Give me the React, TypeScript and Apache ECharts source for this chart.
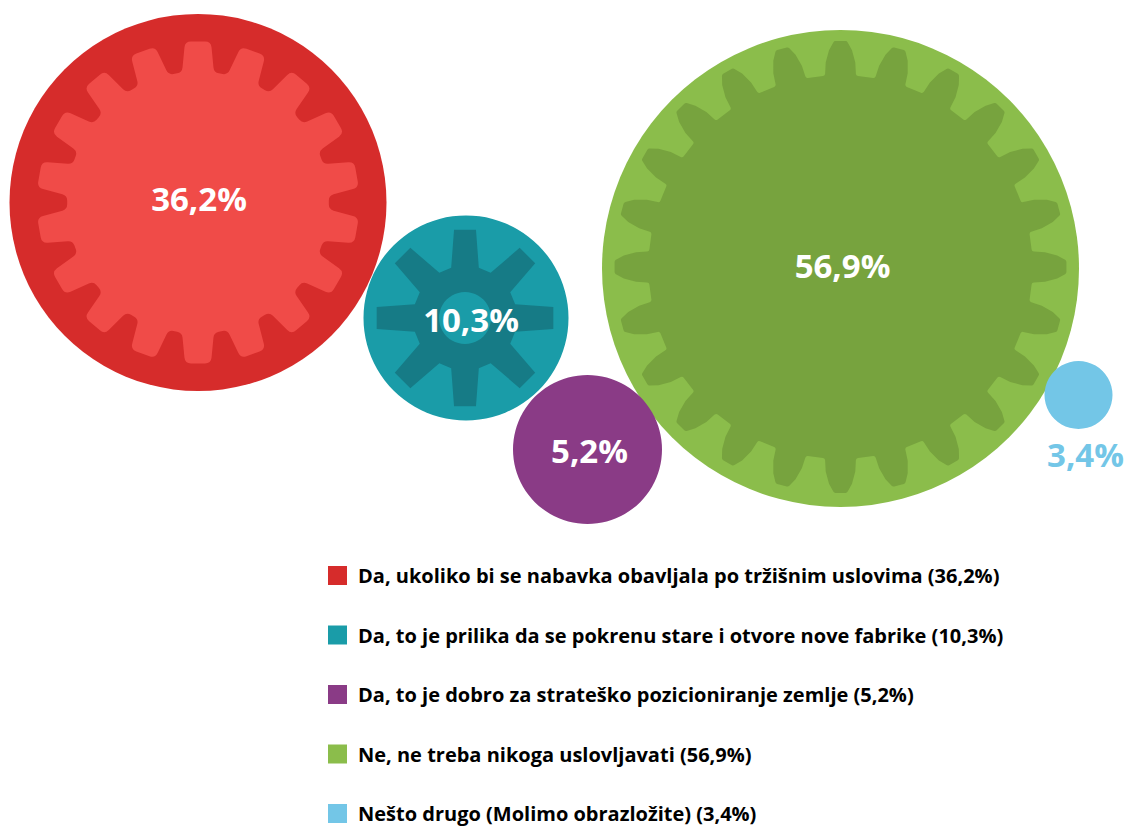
import React, { useEffect, useRef } from "react";
import * as echarts from "echarts";

// ---- data ----
const categories = [
  "Da, ukoliko bi se nabavka obavljala po tržišnim uslovima (36,2%)",
  "Da, to je prilika da se pokrenu stare i otvore nove fabrike (10,3%)",
  "Da, to je dobro za strateško pozicioniranje zemlje (5,2%)",
  "Ne, ne treba nikoga uslovljavati (56,9%)",
  "Nešto drugo (Molimo obrazložite) (3,4%)",
];
const values = [36.2, 10.3, 5.2, 56.9, 3.4];
const valueLabels = ["36,2%", "10,3%", "5,2%", "56,9%", "3,4%"];

// ---- layout (pixel space of the 1133x827 canvas) ----
const bubbleX = [198, 466, 587.5, 840.5, 1078.5];
const bubbleY = [202.5, 318, 449.5, 268.5, 395];
const bubbleR = [188.5, 102.5, 74.5, 238.5, 34];
const labelDX = [1, 5, 2, 2, 7];
const labelDY = [-4, 1, 1, -3, 59];
const zOrder = [2, 2, 3, 2, 3];

// ---- styles ----
const circleColors = ["#d62c2b", "#1a9ca8", "#8a3b86", "#8bbd4b", "#73c6e7"];
const gearColors = ["#f04b48", "#167b86", null, "#77a33e", null];
const labelColors = ["#ffffff", "#ffffff", "#ffffff", "#ffffff", "#73c6e7"];

type Prof = { r: number; h: number; round: number };
type GearSpec = { n: number; phase: number; profile: Prof[]; dx: number; dy: number; hole: number } | null;
const gearSpecs: GearSpec[] = [
  {
    n: 18,
    phase: 90,
    dx: 0,
    dy: 0,
    hole: 0,
    profile: [
      { r: 131, h: 16, round: 5 },
      { r: 161.5, h: 13, round: 6 },
    ],
  },
  {
    n: 8,
    phase: 90,
    dx: -1,
    dy: 0,
    hole: 26,
    profile: [
      { r: 52, h: 14, round: 0 },
      { r: 89, h: 11, round: 0 },
    ],
  },
  null,
  {
    n: 24,
    phase: 90,
    dx: 0,
    dy: -1.5,
    hole: 0,
    profile: [
      { r: 192, h: 15.5, round: 2 },
      { r: 205, h: 14.8, round: 0 },
      { r: 217, h: 11.5, round: 0 },
      { r: 226, h: 6.5, round: 1.5 },
    ],
  },
  null,
];

type P = { x: number; y: number; r: number };

function roundedPolyPath(pts: P[]): string {
  const n = pts.length;
  const f = (v: number) => v.toFixed(2);
  let d = "";
  for (let i = 0; i < n; i++) {
    const p = pts[i];
    const prev = pts[(i - 1 + n) % n];
    const next = pts[(i + 1) % n];
    const cmd = i === 0 ? "M" : "L";
    if (p.r > 0) {
      const l1 = Math.hypot(prev.x - p.x, prev.y - p.y);
      const l2 = Math.hypot(next.x - p.x, next.y - p.y);
      const r1 = Math.min(p.r, l1 / 2);
      const r2 = Math.min(p.r, l2 / 2);
      const ax = p.x + ((prev.x - p.x) / l1) * r1;
      const ay = p.y + ((prev.y - p.y) / l1) * r1;
      const bx = p.x + ((next.x - p.x) / l2) * r2;
      const by = p.y + ((next.y - p.y) / l2) * r2;
      d += `${cmd}${f(ax)},${f(ay)} Q${f(p.x)},${f(p.y)} ${f(bx)},${f(by)} `;
    } else {
      d += `${cmd}${f(p.x)},${f(p.y)} `;
    }
  }
  return d + "Z";
}

function gearPath(cx: number, cy: number, s: number, spec: NonNullable<GearSpec>): string {
  const pts: P[] = [];
  const step = 360 / spec.n;
  for (let k = 0; k < spec.n; k++) {
    const a = ((spec.phase + k * step) * Math.PI) / 180;
    const prof = spec.profile;
    for (let i = 0; i < prof.length; i++) {
      const r = prof[i].r * s;
      const t = a - (prof[i].h * s) / r;
      pts.push({ x: cx + r * Math.cos(t), y: cy - r * Math.sin(t), r: prof[i].round * s });
    }
    for (let i = prof.length - 1; i >= 0; i--) {
      const r = prof[i].r * s;
      const t = a + (prof[i].h * s) / r;
      pts.push({ x: cx + r * Math.cos(t), y: cy - r * Math.sin(t), r: prof[i].round * s });
    }
  }
  return roundedPolyPath(pts);
}

export default function App() {
  const ref = useRef<HTMLDivElement>(null);
  useEffect(() => {
    if (!ref.current) return;
    const chart = echarts.init(ref.current, null, { renderer: "svg" });
    const series = categories.map((name, idx) => ({
      type: "custom",
      name,
      z: zOrder[idx],
      clip: false,
      coordinateSystem: "cartesian2d",
      itemStyle: { color: circleColors[idx] },
      data: [[bubbleX[idx], bubbleY[idx], values[idx]]],
      renderItem: (params: any, api: any) => {
        const c = api.coord([api.value(0), api.value(1)]);
        const unit = api.size([1, 1])[0];
        const r = bubbleR[idx] * unit;
        const children: any[] = [
          {
            type: "circle",
            shape: { cx: c[0], cy: c[1], r },
            style: { fill: circleColors[idx] },
          },
        ];
        const spec = gearSpecs[idx];
        if (spec) {
          const gx = c[0] + spec.dx * unit;
          const gy = c[1] + spec.dy * unit;
          children.push({
            type: "path",
            shape: { pathData: gearPath(gx, gy, unit, spec) },
            style: { fill: gearColors[idx] },
          });
          if (spec.hole > 0) {
            children.push({
              type: "circle",
              shape: { cx: gx, cy: gy, r: spec.hole * unit },
              style: { fill: circleColors[idx] },
            });
          }
        }
        children.push({
          type: "text",
          style: {
            text: valueLabels[idx],
            x: c[0] + labelDX[idx] * unit,
            y: c[1] + labelDY[idx] * unit,
            align: "center",
            verticalAlign: "middle",
            fill: labelColors[idx],
            fontFamily: "Open Sans",
            fontWeight: "bold",
            fontSize: 33,
          },
        });
        return { type: "group", children };
      },
    }));

    chart.setOption({
      animation: false,
      backgroundColor: "#ffffff",
      grid: { left: 0, right: 0, top: 0, bottom: 0, containLabel: false },
      xAxis: { type: "value", min: 0, max: 1133, show: false },
      yAxis: { type: "value", min: 0, max: 827, inverse: true, show: false },
      tooltip: { show: false },
      legend: {
        data: categories,
        orient: "vertical",
        left: 328,
        top: 565.5,
        padding: 0,
        icon: "rect",
        itemWidth: 19,
        itemHeight: 19,
        itemGap: 39.5,
        selectedMode: false,
        textStyle: {
          fontFamily: "Open Sans",
          fontWeight: "bold",
          fontSize: 20,
          lineHeight: 19,
          color: "#000000",
          padding: [0, 0, 0, 6],
        },
      },
      series,
    } as any);
    return () => chart.dispose();
  }, []);
  return (
    <div
      ref={ref}
      style={{ position: "absolute", left: 0, top: 0, width: 1133, height: 827 }}
    />
  );
}
